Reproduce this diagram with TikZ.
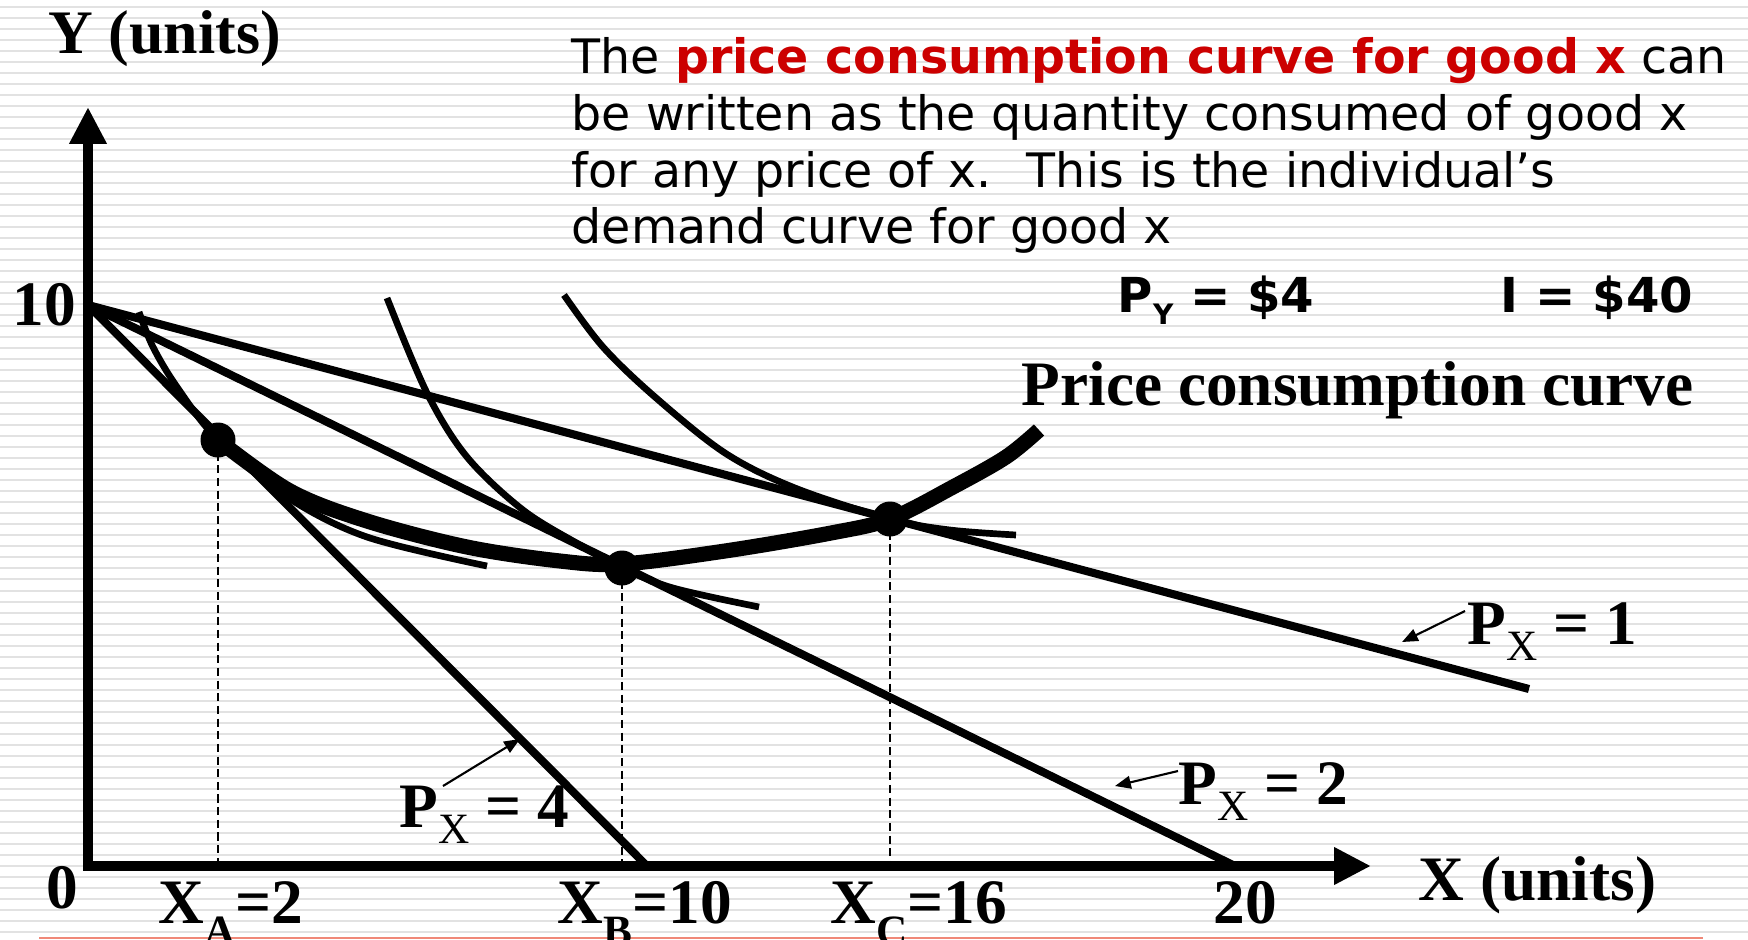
\documentclass[tikz,border=0pt]{standalone}
\usepackage{fontspec}
\setmainfont{Liberation Serif}
\newfontfamily\verd{DejaVu Sans}
\usetikzlibrary{arrows.meta}
\definecolor{redtxt}{HTML}{CC0000}
\definecolor{stripe}{HTML}{E2E2E2}
\definecolor{pinkline}{HTML}{F08878}
\newcommand\lowsub[2]{\raisebox{#1}{\fontsize{12.3}{12}\selectfont #2}}
\tikzset{
  axisline/.style={line width=3pt, line join=miter, arrows={Triangle[length=10.5pt,width=10pt]-Triangle[length=10.5pt,width=10pt]}},
  budget/.style={line width=2.3pt},
  icurve/.style={line width=1.9pt},
  pcc/.style={line width=4.3pt},
  guide/.style={line width=0.5pt, dash pattern=on 2.3pt off 1.3pt},
  pointer/.style={line width=0.6pt, -{Triangle[length=4.5pt,width=3.6pt]}},
  lbl/.style={inner sep=0pt, anchor=base west, font=\fontsize{18}{20}\selectfont\bfseries},
  para/.style={inner sep=0pt, anchor=base west, font=\verd\fontsize{13.5}{16}\selectfont},
  given/.style={inner sep=0pt, anchor=base west, font=\verd\bfseries\fontsize{13.7}{16}\selectfont},
}
\begin{document}
\begin{tikzpicture}[x=0.01cm,y=-0.01cm]
\useasboundingbox (0,0) rectangle (1748,939);
\fill[white] (0,0) rectangle (1748,939);
\foreach \k in {0,...,84} {\fill[stripe] (0,{6.7+11.015*\k-1}) rectangle (1748,{6.7+11.015*\k+1});}
\draw[pinkline, line width=0.45pt] (39,937.7) -- (1703,937.7);

% key points
\coordinate (O) at (88,866);
\coordinate (Ytop) at (88,107);
\coordinate (Xend) at (1371,866);
\coordinate (Y10) at (88,305);
\coordinate (P1end) at (1529,689);
\coordinate (X20) at (1235,866);
\coordinate (X10) at (647,866);
\coordinate (A) at (218,440);
\coordinate (B) at (622,568);
\coordinate (C) at (890,519);
\coordinate (Abase) at (218,866);
\coordinate (Bbase) at (622,866);
\coordinate (Cbase) at (890,866);

% axes
\draw[axisline] (Ytop) -- (O) -- (Xend);

% budget lines
\draw[budget] (Y10) -- (P1end);
\draw[budget] (Y10) -- (X20);
\draw[budget] (Y10) -- (X10);

% indifference curves
\draw[icurve] plot[smooth, tension=0.55] coordinates {(139,312) (153,347) (177,387) (A) (287,497) (367,537) (487,566)};
\draw[icurve] plot[smooth, tension=0.55] coordinates {(387,298) (427,393) (467,457) (523,510) (580,545) (B) (673,588) (759,607)};
\draw[icurve] plot[smooth, tension=0.55] coordinates {(564,295) (603,347) (655,397) (725,453) (795,488) (C) (950,530) (1016,535)};

% guides
\draw[guide] (A) -- (Abase);
\draw[guide] (B) -- (Bbase);
\draw[guide] (C) -- (Cbase);

% price consumption curve
\draw[pcc] plot[smooth, tension=0.55] coordinates {(A) (290,491) (367,521) (467,547) (560,561) (622,564) (725,551) (831,533) (C) (953,487) (1006,457) (1039,430)};

% points
\fill (A) circle[radius=17.5];
\fill (B) circle[radius=17.5];
\fill (C) circle[radius=17.5];

% axis labels
\node[lbl, font=\fontsize{17.6}{20}\selectfont\bfseries] (ylab) at (48,53) {Y (units)};
\node[lbl] (xlab) at (1418,900) {X (units)};
\node[lbl] (ten) at (12,325) {10};
\node[lbl] (zero) at (46,908) {0};
\node[lbl] (xa) at (158,923) {X\lowsub{-6.3pt}{A}=2};
\node[lbl] (xb) at (557,923) {X\lowsub{-6.3pt}{B}=10};
\node[lbl] (xc) at (830,923) {X\lowsub{-6.3pt}{C}=16};
\node[lbl] (twenty) at (1213,923) {20};

% budget labels
\node[lbl] (l4) at (399,827) {P\lowsub{-4.6pt}{\mdseries X} = 4};
\node[lbl] (l1) at (1467,644) {P\lowsub{-4.6pt}{\mdseries X} = 1};
\node[lbl] (l2) at (1178,804) {P\lowsub{-4.6pt}{\mdseries X} = 2};
\coordinate (t4) at (443,786);
\coordinate (h4) at (520,739);
\coordinate (t1) at (1465,611);
\coordinate (h1) at (1402,642);
\coordinate (t2) at (1178,771);
\coordinate (h2) at (1115,786);
\draw[pointer] (t4) -- (h4);
\draw[pointer] (t1) -- (h1);
\draw[pointer] (t2) -- (h2);

\node[lbl] (pcclab) at (1021,405) {Price consumption curve};

% givens
\node[given] (py) at (1117,312) {P\lowsub{-3.5pt}{\fontsize{8}{8}\selectfont Y} = \$4};
\node[given] (inc) at (1500,312) {I = \$40};

% paragraph
\node[para] (p1) at (571,73) {The {\bfseries\color{redtxt}price consumption curve for good x} can};
\node[para] (p2) at (571,130) {be written as the quantity consumed of good x};
\node[para] (p3) at (571,187) {for any price of x.~ This is the individual’s};
\node[para] (p4) at (571,243) {demand curve for good x};
\end{tikzpicture}
\end{document}
